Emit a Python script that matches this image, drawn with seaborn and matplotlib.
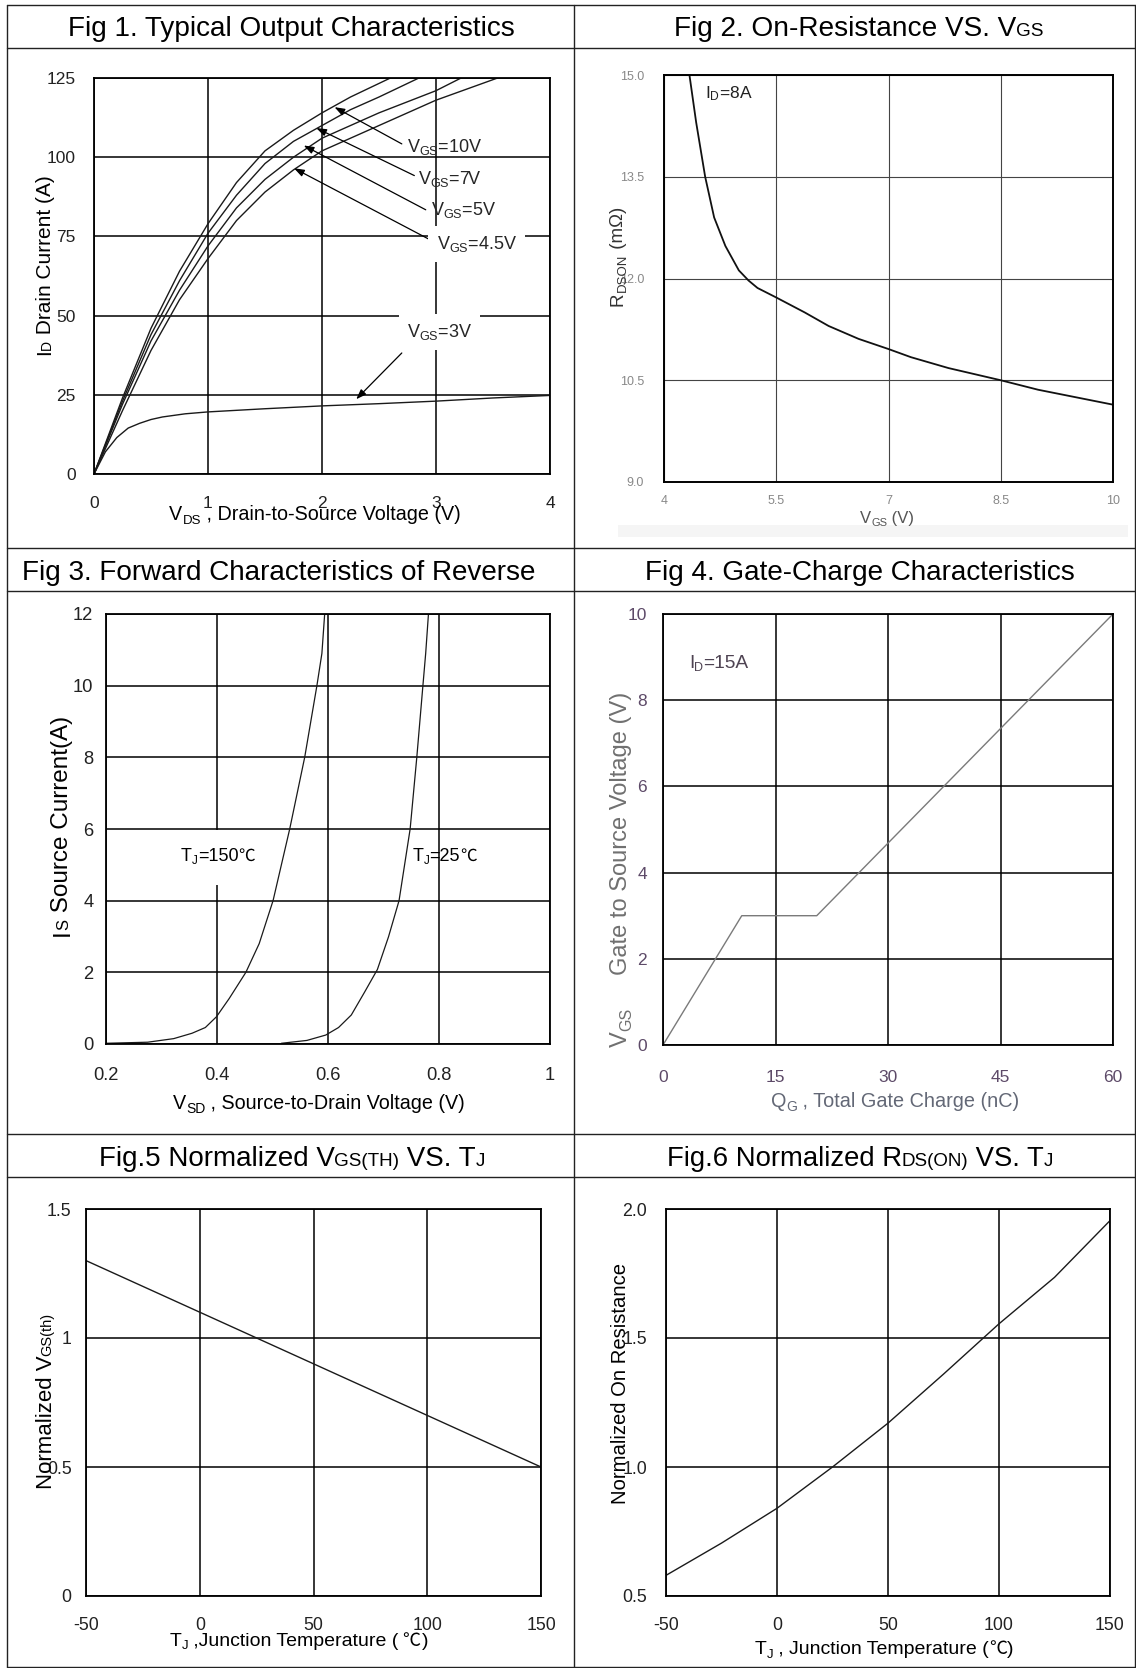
import numpy as np
import pandas as pd
import matplotlib
matplotlib.use('Agg')
import matplotlib.pyplot as plt
import seaborn as sns
from matplotlib import font_manager as fm
from matplotlib.lines import Line2D
from matplotlib.patches import Rectangle

# ---- data ----
# Fig 1: output characteristics, I_D (A) vs V_DS (V)
vds_10 = [0, 0.25, 0.5, 0.75, 1.0, 1.25, 1.5, 1.75, 2.0, 2.25, 2.6]
id_10 = [0, 24, 46, 64, 79, 92, 102, 108.5, 114, 119, 125]
vds_7 = [0, 0.25, 0.5, 0.75, 1.0, 1.25, 1.5, 1.75, 2.0, 2.25, 2.5, 2.85]
id_7 = [0, 23, 44, 61, 76, 88, 98, 105, 110, 115, 119, 125]
vds_5 = [0, 0.25, 0.5, 0.75, 1.0, 1.25, 1.5, 1.75, 2.0, 2.5, 3.0, 3.22]
id_5 = [0, 22, 42, 58, 72, 84, 93, 100, 106, 114, 121, 125]
vds_45 = [0, 0.25, 0.5, 0.75, 1.0, 1.25, 1.5, 1.75, 2.0, 2.5, 3.0, 3.54]
id_45 = [0, 20, 39, 55, 68, 80, 89, 96, 102, 110, 118, 125]
vds_3 = [0, 0.1, 0.2, 0.3, 0.4, 0.5, 0.6, 0.8, 1.0, 1.5, 2.0, 2.5, 3.0, 3.5, 4.0]
id_3 = [0, 7, 11.5, 14.5, 16, 17.2, 18, 19, 19.6, 20.6, 21.5, 22.2, 23, 24, 24.8]

# Fig 2: R_DSON (mOhm) vs V_GS (V)
vgs_r = [4.34, 4.43, 4.55, 4.67, 4.82, 5.0, 5.13, 5.25, 5.5, 5.88, 6.2, 6.6, 7.0, 7.3, 7.8, 8.5, 9.0, 10.0]
rdson = [15.0, 14.3, 13.5, 12.9, 12.48, 12.12, 11.97, 11.86, 11.72, 11.5, 11.3, 11.11, 10.96, 10.84, 10.68, 10.5, 10.36, 10.14]

# Fig 3: body diode, I_S (A) vs V_SD (V)
vsd_150 = [0.2, 0.275, 0.322, 0.355, 0.379, 0.399, 0.422, 0.452, 0.476, 0.501, 0.531, 0.558, 0.580, 0.589, 0.594]
is_150 = [0.02, 0.05, 0.15, 0.30, 0.46, 0.76, 1.27, 2.0, 2.8, 4.0, 6.0, 8.0, 10.0, 10.9, 12.0]
vsd_25 = [0.516, 0.562, 0.596, 0.619, 0.642, 0.666, 0.689, 0.709, 0.728, 0.748, 0.760, 0.771, 0.776, 0.781]
is_25 = [0.02, 0.10, 0.25, 0.46, 0.81, 1.45, 2.08, 2.99, 4.0, 6.0, 8.0, 10.0, 10.9, 12.0]

# Fig 4: gate charge
qg = [0, 10.5, 20.5, 60]
vgs_q = [0, 3, 3, 10]

# Fig 5 / Fig 6: normalised vs junction temperature
tj5 = [-50, 0, 50, 100, 150]
vth_n = [1.3, 1.1, 0.9, 0.7, 0.5]
tj6 = [-50, -25, 0, 25, 50, 75, 100, 125, 150]
rds_n = [0.58, 0.705, 0.84, 1.0, 1.17, 1.36, 1.555, 1.735, 1.955]

# tick labels
f1_xt = ['0', '1', '2', '3', '4']
f1_yt = ['0', '25', '50', '75', '100', '125']
f2_xt = ['4', '5.5', '7', '8.5', '10']
f2_yt = ['9.0', '10.5', '12.0', '13.5', '15.0']
f3_xt = ['0.2', '0.4', '0.6', '0.8', '1']
f3_yt = ['0', '2', '4', '6', '8', '10', '12']
f4_xt = ['0', '15', '30', '45', '60']
f4_yt = ['0', '2', '4', '6', '8', '10']
f5_xt = ['-50', '0', '50', '100', '150']
f5_yt = ['0', '0.5', '1', '1.5']
f6_yt = ['0.5', '1.0', '1.5', '2.0']

# ---- style ----
sns.set_theme(style='white')
names = {f.name for f in fm.fontManager.ttflist}
REG = 'Liberation Sans'
NAR = 'Liberation Sans Narrow' if 'Liberation Sans Narrow' in names else 'Liberation Sans'
plt.rcParams['font.family'] = [REG, 'DejaVu Sans']
plt.rcParams['mathtext.fontset'] = 'custom'
plt.rcParams['mathtext.rm'] = REG
plt.rcParams['mathtext.default'] = 'regular'

W, H = 1136, 1668
fig = plt.figure(figsize=(W / 100, H / 100), dpi=100)
fig.patch.set_facecolor('white')
rend = fig.canvas.get_renderer()


def add_ax(l, t, r, b):
    return fig.add_axes([l / W, 1 - b / H, (r - l) / W, (b - t) / H])


def rich(x, y, parts, rot=0, ha='center', color='black', fam=REG, box=None):
    # x, y = baseline anchor in pixels from the top-left; parts = (text, size, drop)
    arts = []
    for s, fs, drop in parts:
        t = fig.text(0, 0, s, fontsize=fs, rotation=rot, rotation_mode='anchor',
                     ha='left', va='baseline', color=color, family=[fam, 'Noto Sans CJK SC'], zorder=5)
        bb = t.get_window_extent(rend)
        arts.append((t, drop, bb.width if rot == 0 else bb.height))
    total = sum(a[2] for a in arts)
    pos = -total / 2 if ha == 'center' else 0
    for t, drop, size in arts:
        if rot == 0:
            t.set_position(((x + pos) / W, 1 - (y + drop) / H))
        else:
            t.set_position(((x + drop) / W, 1 - (y - pos) / H))
        pos += size
    if box is not None:
        exts = [a[0].get_window_extent(rend) for a in arts]
        x0 = min(e.x0 for e in exts) - box[0]
        x1 = max(e.x1 for e in exts) + box[0]
        y0 = min(e.y0 for e in exts) - box[1]
        y1 = max(e.y1 for e in exts) + box[1]
        fig.add_artist(Rectangle((x0 / W, y0 / H), (x1 - x0) / W, (y1 - y0) / H,
                                 transform=fig.transFigure, fc='white', ec='none', zorder=1))


def style(ax, xlim, ylim, xt, yt, xtl, ytl, size, fam, tcol, xpad, ypad,
          gcol='black', glw=1.1, slw=1.3):
    ax.set_xlim(xlim)
    ax.set_ylim(ylim)
    ax.set_xticks(xt)
    ax.set_yticks(yt)
    ax.set_xticklabels(xtl, fontsize=size, family=fam, color=tcol)
    ax.set_yticklabels(ytl, fontsize=size, family=fam, color=tcol)
    ax.tick_params(length=0)
    ax.tick_params(axis='x', pad=xpad)
    ax.tick_params(axis='y', pad=ypad)
    ax.grid(True, color=gcol, lw=glw)
    ax.set_axisbelow(True)
    ax.set_xlabel('')
    ax.set_ylabel('')
    for s in ax.spines.values():
        s.set_visible(True)
        s.set_color('black')
        s.set_linewidth(slw)


# table frame
for yy in [4.7, 47.5, 548.3, 591, 1134, 1176.5, 1666.5]:
    fig.add_artist(Line2D([6.7 / W, 1135 / W], [1 - yy / H] * 2, color='#222', lw=1.0))
for xx in [6.7, 574, 1135]:
    fig.add_artist(Line2D([xx / W] * 2, [1 - 4.7 / H, 1 - 1666.5 / H], color='#222', lw=1.0))
fig.add_artist(Rectangle((618 / W, 1 - 537 / H), 510 / W, 12 / H, transform=fig.transFigure,
                         fc='#f5f5f5', ec='none', zorder=0.2))

# ---- Fig 1 ----
ax1 = add_ax(94, 78, 550, 474)
for vx, iy in [(vds_10, id_10), (vds_7, id_7), (vds_5, id_5), (vds_45, id_45), (vds_3, id_3)]:
    sns.lineplot(x=vx, y=iy, ax=ax1, color='#1a1a1a', lw=1.0)
style(ax1, (0, 4), (0, 125), [0, 1, 2, 3, 4], [0, 25, 50, 75, 100, 125], f1_xt, f1_yt,
      12.5, REG, '#222', 15.5, 13)
f1_notes = [('10', (2.746, 103.1), (2.70, 104.2), (2.11, 115.8), False),
            ('7', (2.84, 93.1), (2.81, 94.2), (1.95, 109.2), False),
            ('5', (2.956, 83.2), (2.91, 83.4), (1.84, 103.7), False),
            ('4.5', (3.005, 72.6), (2.96, 73.7), (1.755, 96.5), True),
            ('3', (2.746, 44.9), (2.70, 38.2), (2.30, 23.6), True)]
for v, (tx, ty), tail, tip, boxed in f1_notes:
    ax1.annotate('', xy=tip, xytext=tail,
                 arrowprops=dict(arrowstyle='-|>,head_length=0.5,head_width=0.18', color='black',
                                 lw=0.9, shrinkA=0, shrinkB=0))
    kw = dict(bbox=dict(fc='white', ec='none', boxstyle='square,pad=0.45')) if boxed else {}
    ax1.text(tx, ty, r'V$_{GS}$=' + v + 'V', fontsize=13, va='center', ha='left', zorder=4, **kw)
rich(50.5, 265, [('I', 15, 0), ('D', 10, 0), (' Drain Current (A)', 15, 0)], rot=90)
rich(315, 520.4, [('V', 14.2, 0), ('DS', 9.5, 4), (' , Drain-to-Source Voltage (V)', 14.2, 0)])

# ---- Fig 2 ----
ax2 = add_ax(664, 75, 1113, 482)
sns.lineplot(x=vgs_r, y=rdson, ax=ax2, color='#111', lw=1.3)
style(ax2, (4, 10), (9, 15), [4, 5.5, 7, 8.5, 10], [9, 10.5, 12, 13.5, 15], f2_xt, f2_yt,
      9, REG, '#888', 9.7, 14.4, gcol='#444', glw=0.8, slw=1.4)
ax2.text(4.55, 14.72, r'I$_{D}$=8A', fontsize=12.5, color='#222', va='center', ha='left')
rich(623, 256, [('R', 13.5, 0), ('DSON', 9.5, 3), (' (mΩ)', 13.5, 0)], rot=90, color='#333')
rich(887, 522.8, [('V', 12, 0), ('GS', 8, 3), (' (V)', 12, 0)], color='#555')

# ---- Fig 3 ----
ax3 = add_ax(106, 614, 550, 1044)
sns.lineplot(x=vsd_150, y=is_150, ax=ax3, color='#1a1a1a', lw=0.9)
sns.lineplot(x=vsd_25, y=is_25, ax=ax3, color='#1a1a1a', lw=0.9)
style(ax3, (0.2, 1.0), (0, 12), [0.2, 0.4, 0.6, 0.8, 1.0], [0, 2, 4, 6, 8, 10, 12], f3_xt, f3_yt,
      13.2, NAR, '#222', 16.8, 9.1)
rich(181, 861, [('T', 13, 0), ('J', 8.5, 3), ('=150', 13, 0), ('℃', 12, 0)], ha='left', fam=NAR,
     box=(3, 18))
rich(412.5, 861, [('T', 13, 0), ('J', 8.5, 3), ('=25', 13, 0), ('℃', 12, 0)], ha='left', fam=NAR)
rich(68.4, 826, [('I', 17.5, 0), ('S', 12, 0), (' Source Current(A)', 17.5, 0)], rot=90)
rich(319, 1108.6, [('V', 14.2, 0), ('SD', 10, 4), (' , Source-to-Drain Voltage (V)', 14.2, 0)], fam=NAR)

# ---- Fig 4 ----
ax4 = add_ax(663, 614, 1113, 1045)
sns.lineplot(x=qg, y=vgs_q, ax=ax4, color='#7a7a7a', lw=1.0)
style(ax4, (0, 60), (0, 10), [0, 15, 30, 45, 60], [0, 2, 4, 6, 8, 10], f4_xt, f4_yt,
      12.5, NAR, '#5d4a68', 18, 11.5)
rich(689, 668, [('I', 13.8, 0), ('D', 9, 3), ('=15A', 13.8, 0)], ha='left', fam=NAR, color='#4e4352')
rich(627, 869.5, [('V', 17, 0), ('GS', 11.5, 4), ('     Gate to Source Voltage (V)', 17, 0)],
     rot=90, color='#707070')
rich(895, 1106.8, [('Q', 14.3, 0), ('G', 10, 4), (' , Total Gate Charge (nC)', 14.3, 0)],
     fam=NAR, color='#636876')

# ---- Fig 5 ----
ax5 = add_ax(86, 1209, 541, 1596)
sns.lineplot(x=tj5, y=vth_n, ax=ax5, color='#1a1a1a', lw=1.0)
style(ax5, (-50, 150), (0, 1.5), [-50, 0, 50, 100, 150], [0, 0.5, 1, 1.5], f5_xt, f5_yt,
      12.8, REG, '#222', 15, 10.3)
rich(51.5, 1401, [('Normalized V', 16, 0), ('GS(th)', 10.5, 0)], rot=90)
rich(298.8, 1645.6, [('T', 14, 0), ('J', 9.5, 3), (' ,Junction Temperature (', 14, 0),
                     (' ℃', 13, 0), (')', 14, 0)], fam=NAR)

# ---- Fig 6 ----
ax6 = add_ax(666, 1209, 1110, 1596)
sns.lineplot(x=tj6, y=rds_n, ax=ax6, color='#1a1a1a', lw=1.0)
style(ax6, (-50, 150), (0.5, 2.0), [-50, 0, 50, 100, 150], [0.5, 1.0, 1.5, 2.0], f5_xt, f6_yt,
      12.8, REG, '#222', 15, 13.5)
rich(626, 1384, [('Normalized On Resistance', 14.6, 0)], rot=90)
rich(884, 1654.5, [('T', 14, 0), ('J', 9.5, 3), (' , Junction Temperature (', 14, 0),
                   ('℃', 13, 0), (')', 14, 0)], fam=NAR)

# ---- titles ----
rich(291.7, 36.5, [('Fig 1. Typical Output Characteristics', 20.1, 0)])
rich(859, 36.5, [('Fig 2. On-Resistance VS. V', 20.2, 0), ('GS', 13.7, 0)])
rich(279, 580.5, [('Fig 3. Forward Characteristics of Reverse', 20.1, 0)])
rich(859.7, 580.5, [('Fig 4. Gate-Charge Characteristics', 20.1, 0)])
rich(292, 1166.5, [('Fig.5 Normalized V', 20, 0), ('GS(TH)', 13.6, 0), (' VS. T', 20, 0), ('J', 13.6, 0)])
rich(860, 1166.5, [('Fig.6 Normalized R', 19.8, 0), ('DS(ON)', 13.5, 0), (' VS. T', 19.8, 0), ('J', 13.5, 0)])

fig.savefig('out.png', dpi=100)
